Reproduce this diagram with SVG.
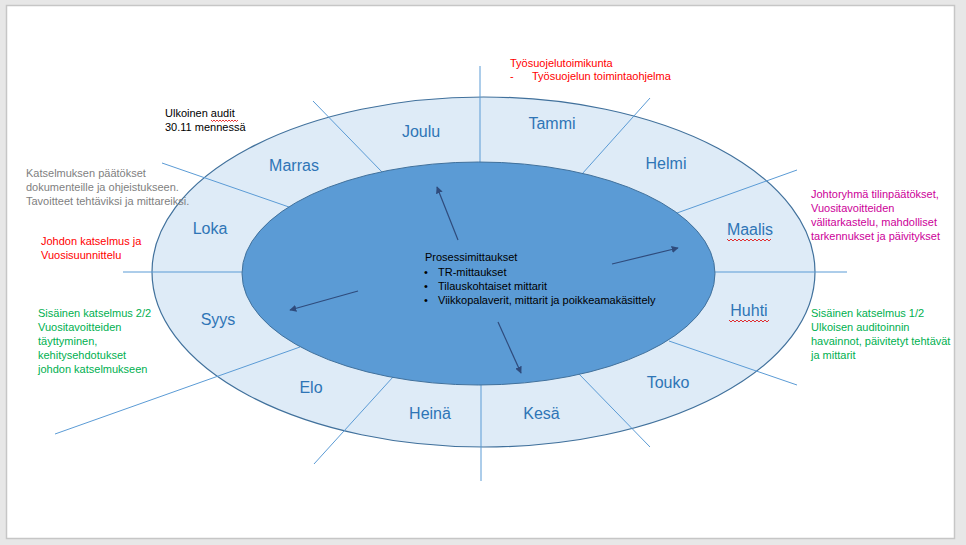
<svg xmlns="http://www.w3.org/2000/svg" width="966" height="545" viewBox="0 0 966 545">
<style>
.month{font-family:"Liberation Sans",Arial,sans-serif;font-size:16px;fill:#2e75b6;text-anchor:middle}
.note{font-family:"Liberation Sans",Arial,sans-serif;font-size:11px}
.spoke{stroke:#5b9bd5;stroke-width:1;fill:none}
.arrow{stroke:#2f4b7c;stroke-width:1.2;fill:none;marker-end:url(#ah)}
.squig{stroke:#e00000;stroke-width:0.8;fill:none}
</style>
<defs>
<marker id="ah" viewBox="0 0 10 10" refX="9" refY="5" markerWidth="7" markerHeight="7" orient="auto" markerUnits="userSpaceOnUse">
<path d="M0,0 L10,5 L0,10 z" fill="#2f4b7c"/>
</marker>
</defs>
<rect x="0" y="0" width="966" height="545" fill="#e7e7e7"/>
<rect x="6.5" y="5.5" width="948" height="533" fill="#ffffff" stroke="#c6c6c6" stroke-width="1.5"/>

<g id="ring">
<ellipse cx="483.5" cy="272" rx="331.5" ry="175" fill="#deebf7" stroke="#41719c" stroke-width="1.2"/>
</g>

<g id="connectors">
<line class="spoke" x1="480" y1="66" x2="480" y2="162"/>
<line class="spoke" x1="481" y1="385" x2="481" y2="481"/>
<line class="spoke" x1="123" y1="272" x2="242" y2="272"/>
<line class="spoke" x1="715" y1="272" x2="847" y2="272"/>
<line class="spoke" x1="313" y1="101" x2="382" y2="172"/>
<line class="spoke" x1="162" y1="163" x2="289" y2="207"/>
<line class="spoke" x1="650" y1="98" x2="582" y2="174"/>
<line class="spoke" x1="797" y1="170" x2="677" y2="213"/>
<line class="spoke" x1="669" y1="341" x2="797" y2="385"/>
<line class="spoke" x1="579" y1="374" x2="650" y2="447"/>
<line class="spoke" x1="393" y1="377" x2="314" y2="464"/>
<line class="spoke" x1="300" y1="347" x2="55" y2="434"/>
</g>

<g id="center">
<ellipse cx="478.5" cy="273.5" rx="236.5" ry="111.5" fill="#5b9bd5" stroke="#41719c" stroke-width="1"/>
<text class="note" fill="#000000" x="425" y="261">Prosessimittaukset</text>
<text class="note" fill="#000000" x="424" y="276">•</text>
<text class="note" fill="#000000" x="438" y="276">TR-mittaukset</text>
<text class="note" fill="#000000" x="424" y="289.5">•</text>
<text class="note" fill="#000000" x="438" y="289.5">Tilauskohtaiset mittarit</text>
<text class="note" fill="#000000" x="424" y="304">•</text>
<text class="note" fill="#000000" x="438" y="304">Viikkopalaverit, mittarit ja poikkeamakäsittely</text>
</g>

<g id="arrows">
<line class="arrow" x1="458" y1="240" x2="437" y2="187"/>
<line class="arrow" x1="612" y1="264" x2="678" y2="248"/>
<line class="arrow" x1="358" y1="291" x2="290" y2="310"/>
<line class="arrow" x1="498" y1="322" x2="521" y2="373"/>
</g>

<g id="months">
<text class="month" x="421" y="137">Joulu</text>
<text class="month" x="552" y="129">Tammi</text>
<text class="month" x="666" y="169">Helmi</text>
<text class="month" x="750" y="235">Maalis</text>
<text class="month" x="749" y="316">Huhti</text>
<text class="month" x="668" y="388">Touko</text>
<text class="month" x="541.5" y="419">Kesä</text>
<text class="month" x="430" y="419">Heinä</text>
<text class="month" x="311" y="393">Elo</text>
<text class="month" x="218" y="325">Syys</text>
<text class="month" x="210" y="234">Loka</text>
<text class="month" x="294" y="171">Marras</text>
<path class="squig" d="M727,239 l2,2 l2,-2 l2,2 l2,-2 l2,2 l2,-2 l2,2 l2,-2 l2,2 l2,-2 l2,2 l2,-2 l2,2 l2,-2 l2,2 l2,-2 l2,2 l2,-2 l2,2 l2,-2 l2,2 l2,-2"/>
<path class="squig" d="M729,320 l2,2 l2,-2 l2,2 l2,-2 l2,2 l2,-2 l2,2 l2,-2 l2,2 l2,-2 l2,2 l2,-2 l2,2 l2,-2 l2,2 l2,-2 l2,2 l2,-2 l2,2 l2,-2"/>
</g>

<g id="notes">
<text class="note" fill="#ff0000" x="510" y="67">Työsuojelutoimikunta</text>
<text class="note" fill="#ff0000" x="510" y="80">-</text>
<text class="note" fill="#ff0000" x="532" y="80">Työsuojelun toimintaohjelma</text>

<text class="note" fill="#000000" x="165" y="117">Ulkoinen audit</text>
<text class="note" fill="#000000" x="165" y="130.5">30.11 mennessä</text>
<path class="squig" d="M211,120 l1.5,1.5 l1.5,-1.5 l1.5,1.5 l1.5,-1.5 l1.5,1.5 l1.5,-1.5 l1.5,1.5 l1.5,-1.5 l1.5,1.5 l1.5,-1.5 l1.5,1.5 l1.5,-1.5 l1.5,1.5 l1.5,-1.5 l1.5,1.5 l1.5,-1.5 l1.5,1.5 l1.5,-1.5"/>

<text class="note" fill="#7f7f7f" x="26" y="177">Katselmuksen päätökset</text>
<text class="note" fill="#7f7f7f" x="26" y="191">dokumenteille ja ohjeistukseen.</text>
<text class="note" fill="#7f7f7f" x="26" y="205">Tavoitteet tehtäviksi ja mittareiksi.</text>

<text class="note" fill="#ff0000" x="41" y="245">Johdon katselmus ja</text>
<text class="note" fill="#ff0000" x="41" y="259">Vuosisuunnittelu</text>

<text class="note" fill="#00b050" x="38" y="317">Sisäinen katselmus 2/2</text>
<text class="note" fill="#00b050" x="38" y="331">Vuositavoitteiden</text>
<text class="note" fill="#00b050" x="38" y="345">täyttyminen,</text>
<text class="note" fill="#00b050" x="38" y="359">kehitysehdotukset</text>
<text class="note" fill="#00b050" x="38" y="373">johdon katselmukseen</text>

<text class="note" fill="#cc0099" x="811" y="198">Johtoryhmä tilinpäätökset,</text>
<text class="note" fill="#cc0099" x="811" y="212">Vuositavoitteiden</text>
<text class="note" fill="#cc0099" x="811" y="226">välitarkastelu, mahdolliset</text>
<text class="note" fill="#cc0099" x="811" y="240">tarkennukset ja päivitykset</text>

<text class="note" fill="#00b050" x="811" y="317">Sisäinen katselmus 1/2</text>
<text class="note" fill="#00b050" x="811" y="331">Ulkoisen auditoinnin</text>
<text class="note" fill="#00b050" x="811" y="345">havainnot, päivitetyt tehtävät</text>
<text class="note" fill="#00b050" x="811" y="359">ja mittarit</text>
</g>
</svg>
